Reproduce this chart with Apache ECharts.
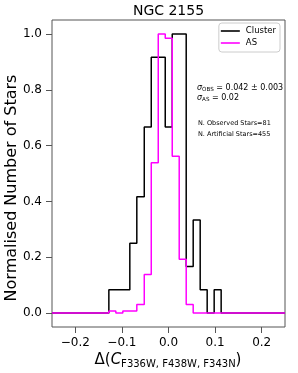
<!DOCTYPE html>
<html><head><meta charset="utf-8">
<script src="https://cdn.jsdelivr.net/npm/echarts@6/dist/echarts.min.js"></script>
<style>html,body{margin:0;padding:0;background:#fff}#c{width:298px;height:373px}</style>
</head><body><div id="c"></div>
<script>
// Data
const binEdges = [-0.128, -0.113, -0.098, -0.083, -0.068, -0.052, -0.037, -0.022, -0.007, 0.008, 0.023, 0.038, 0.053, 0.068, 0.083, 0.098, 0.113];
const clusterCounts = [1, 1, 1, 3, 5, 8, 11, 11, 8, 12, 12, 2, 4, 1, 0, 1];
const asCounts = [1, 0, 1, 1, 4, 18, 70, 130, 128, 73, 25, 4, 0, 0, 0, 0];
const xTicks = [-0.2, -0.1, 0, 0.1, 0.2];
const yTicks = [0, 0.2, 0.4, 0.6, 0.8, 1.0];
const xRange = [-0.25, 0.25];
const yRange = [-0.05, 1.05];
const seriesNames = ['Cluster', 'AS'];
const titleText = 'NGC 2155';
const yLabel = 'Normalised Number of Stars';
const annot = ['0.042 \u00b1 0.003', '0.02', 'N. Observed Stars=81', 'N. Artificial Stars=455'];

const FF = 'DejaVu Sans';
function stepData(counts) {
  const mx = Math.max(...counts);
  const d = [[xRange[0], 0]];
  counts.forEach((c, i) => d.push([binEdges[i], c / mx]));
  d.push([binEdges[binEdges.length - 1], 0]);
  d.push([xRange[1], 0]);
  return d;
}
function fmt(v) { return (v < 0 ? '\u2212' : '') + Math.abs(v).toFixed(1); }

const chart = echarts.init(document.getElementById('c'));
const axisCol = '#555';
const sigmaRich = {
  g: { fontFamily: FF, fontSize: 8, fontStyle: 'italic', fill: '#000', verticalAlign: 'bottom', padding: [0, 0, 1, 0] },
  s: { fontFamily: FF, fontSize: 5.6, fill: '#000', verticalAlign: 'bottom' },
  n: { fontFamily: FF, fontSize: 8, fill: '#000', verticalAlign: 'bottom', padding: [0, 0, 1, 0] }
};
chart.setOption({
  animation: false,
  grid: { left: 52, right: 13, top: 20, bottom: 46, show: true, borderColor: axisCol, borderWidth: 1, backgroundColor: 'transparent' },
  xAxis: {
    type: 'value', min: xRange[0], max: xRange[1],
    axisLine: { show: false, onZero: false }, splitLine: { show: false },
    axisTick: { show: true, customValues: xTicks, length: 6, lineStyle: { color: axisCol } },
    axisLabel: { customValues: xTicks, formatter: fmt, fontFamily: FF, fontSize: 12, color: '#000', margin: 10 }
  },
  yAxis: {
    type: 'value', min: yRange[0], max: yRange[1],
    axisLine: { show: false, onZero: false }, splitLine: { show: false },
    axisTick: { show: true, customValues: yTicks, length: 6, lineStyle: { color: axisCol } },
    axisLabel: { customValues: yTicks, formatter: fmt, fontFamily: FF, fontSize: 12, color: '#000', margin: 10 }
  },
  legend: {
    orient: 'vertical', right: 18, top: 23,
    data: seriesNames.map(n => ({ name: n, icon: 'rect' })),
    borderColor: '#ccc', borderWidth: 1, borderRadius: 3,
    padding: [3, 4, 4, 2], itemWidth: 19, itemHeight: 1.6, itemGap: 2,
    textStyle: { fontFamily: FF, fontSize: 8.5, lineHeight: 10, color: '#000', padding: [0, 0, 0, 1] }
  },
  graphic: [
    { type: 'text', x: 168.5, y: 11, style: { text: titleText, align: 'center', verticalAlign: 'middle', fontFamily: FF, fontSize: 14, fill: '#000' } },
    { type: 'text', x: 12, y: 188, rotation: Math.PI / 2, style: { text: yLabel, align: 'center', verticalAlign: 'middle', fontFamily: FF, fontSize: 16, fill: '#000' } },
    { type: 'text', x: 168, y: 361, style: {
        text: '{a|\u0394(}{c|C}{s|F336W, F438W, F343N}{a|)}', align: 'center', verticalAlign: 'middle',
        rich: {
          a: { fontFamily: FF, fontSize: 15, fill: '#000', verticalAlign: 'bottom', padding: [0, 0, 1, 0] },
          c: { fontFamily: FF, fontSize: 15, fontStyle: 'italic', fill: '#000', verticalAlign: 'bottom', padding: [0, 0, 1, 0] },
          s: { fontFamily: FF, fontSize: 10, fill: '#000', verticalAlign: 'bottom' }
        } } },
    { type: 'text', x: 197, y: 88, style: { text: '{g|\u03c3}{s|OBS}{n| = ' + annot[0] + '}', align: 'left', verticalAlign: 'middle', rich: sigmaRich } },
    { type: 'text', x: 197, y: 98, style: { text: '{g|\u03c3}{s|AS}{n| = ' + annot[1] + '}', align: 'left', verticalAlign: 'middle', rich: sigmaRich } },
    { type: 'text', x: 198, y: 123, style: { text: annot[2], align: 'left', verticalAlign: 'middle', fontFamily: FF, fontSize: 6.5, fill: '#000' } },
    { type: 'text', x: 198, y: 134, style: { text: annot[3], align: 'left', verticalAlign: 'middle', fontFamily: FF, fontSize: 6.5, fill: '#000' } }
  ],
  series: [
    { name: seriesNames[0], type: 'line', step: 'end', symbol: 'none', data: stepData(clusterCounts),
      lineStyle: { color: '#000', width: 1.5 }, itemStyle: { color: '#000' } },
    { name: seriesNames[1], type: 'line', step: 'end', symbol: 'none', data: stepData(asCounts),
      lineStyle: { color: '#ff00ff', width: 1.5 }, itemStyle: { color: '#ff00ff' } }
  ]
});
</script></body></html>
